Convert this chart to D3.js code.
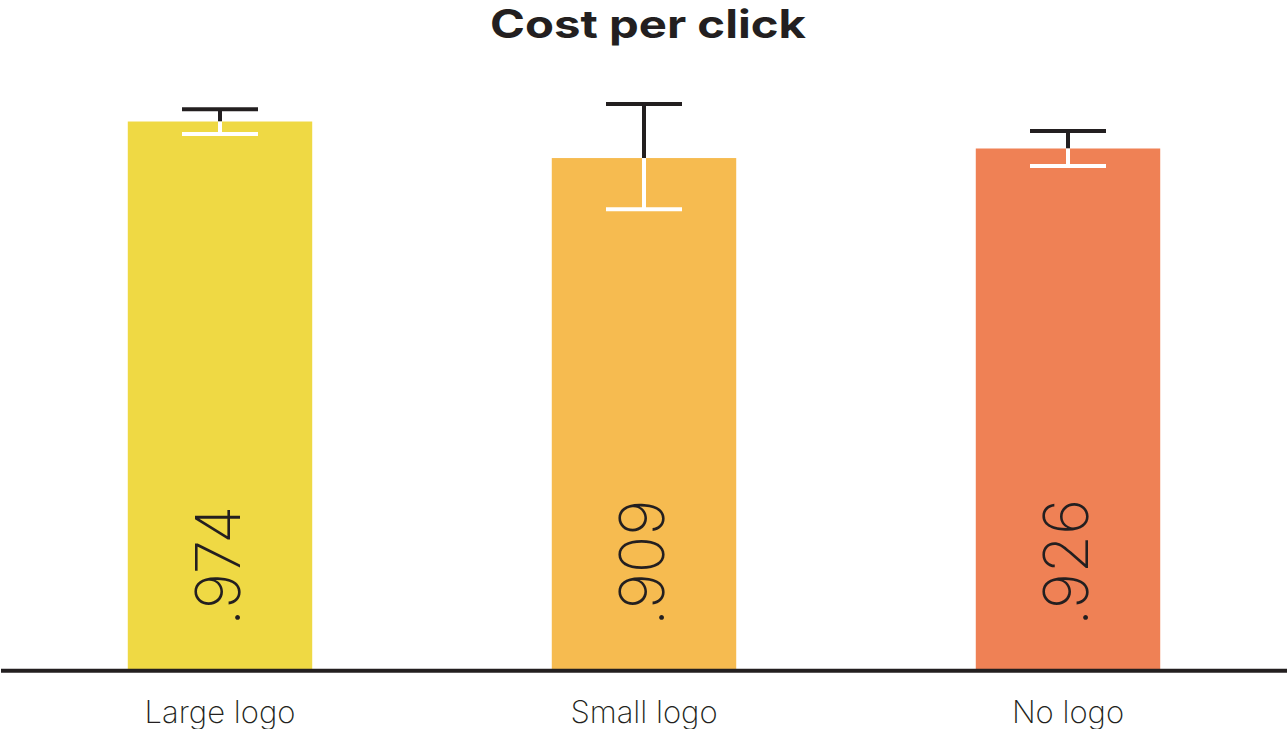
<!DOCTYPE html>
<html><head><meta charset="utf-8">
<script src="https://cdn.jsdelivr.net/npm/d3@7"></script>
<style>html,body{margin:0;padding:0;background:#fff;}svg{display:block;}</style>
</head><body>
<script>
const categories = ["Large logo", "Small logo", "No logo"];
const values = [0.974, 0.909, 0.926];
const valueLabels = [".974", ".909", ".926"];
const errLow = [0.952, 0.818, 0.895];
const errHigh = [0.996, 1.005, 0.957];
const colors = ["#EFD944", "#F6BB50", "#EF8155"];
const title = "Cost per click";

const W = 1288, H = 729;
const svg = d3.select("body").append("svg").attr("width", W).attr("height", H);

const x = d3.scaleBand().domain(categories).range([8, 1280]).paddingInner(0.565).paddingOuter(0.2825);
const y = d3.scaleLinear().domain([0, 1]).range([669, 106.9]);
const dark = "#231F20";

// bars
svg.selectAll("rect.bar").data(categories).join("rect")
  .attr("class", "bar")
  .attr("x", d => x(d)).attr("width", x.bandwidth())
  .attr("y", (d, i) => y(values[i])).attr("height", (d, i) => y(0) - y(values[i]))
  .attr("fill", (d, i) => colors[i]);

// error bars
const capW = 76, sw = 4;
categories.forEach((c, i) => {
  const cx = x(c) + x.bandwidth() / 2;
  const g = svg.append("g");
  g.append("line").attr("x1", cx).attr("x2", cx).attr("y1", y(errHigh[i])).attr("y2", y(values[i]))
    .attr("stroke", dark).attr("stroke-width", sw);
  g.append("line").attr("x1", cx - capW / 2).attr("x2", cx + capW / 2).attr("y1", y(errHigh[i])).attr("y2", y(errHigh[i]))
    .attr("stroke", dark).attr("stroke-width", sw);
  g.append("line").attr("x1", cx).attr("x2", cx).attr("y1", y(values[i])).attr("y2", y(errLow[i]))
    .attr("stroke", "#fff").attr("stroke-width", sw);
  g.append("line").attr("x1", cx - capW / 2).attr("x2", cx + capW / 2).attr("y1", y(errLow[i])).attr("y2", y(errLow[i]))
    .attr("stroke", "#fff").attr("stroke-width", sw);
});

// value labels (rotated)
categories.forEach((c, i) => {
  const cx = x(c) + x.bandwidth() / 2;
  svg.append("text")
    .attr("transform", `translate(${cx + 20},${626}) rotate(-90)`)
    .attr("text-anchor", "start")
    .style("font-family", "Inter, 'Open Sans', sans-serif")
    .style("font-weight", 200)
    .style("font-size", "62px")
    .attr("fill", dark)
    .text(valueLabels[i]);
});

// baseline axis
const xAxis = d3.axisBottom(x).tickSize(0).tickPadding(30);
const ax = svg.append("g").attr("transform", "translate(0,670.7)").call(xAxis);
ax.select(".domain").remove();
ax.append("line").attr("x1", 1).attr("x2", 1287).attr("y1", 0).attr("y2", 0).attr("stroke", dark).attr("stroke-width", 4);
ax.selectAll(".tick text")
  .style("font-family", "Inter, 'Open Sans', sans-serif")
  .style("font-weight", 200)
  .style("font-size", "31px")
  .attr("fill", dark);

// title
svg.append("text").attr("x", 648).attr("y", 38).attr("text-anchor", "middle")
  .attr("textLength", 316).attr("lengthAdjust", "spacingAndGlyphs")
  .style("font-family", "Inter, 'Liberation Sans', sans-serif")
  .style("font-weight", 700)
  .style("font-size", "39px")
  .attr("fill", dark)
  .text(title);
</script>
</body></html>
